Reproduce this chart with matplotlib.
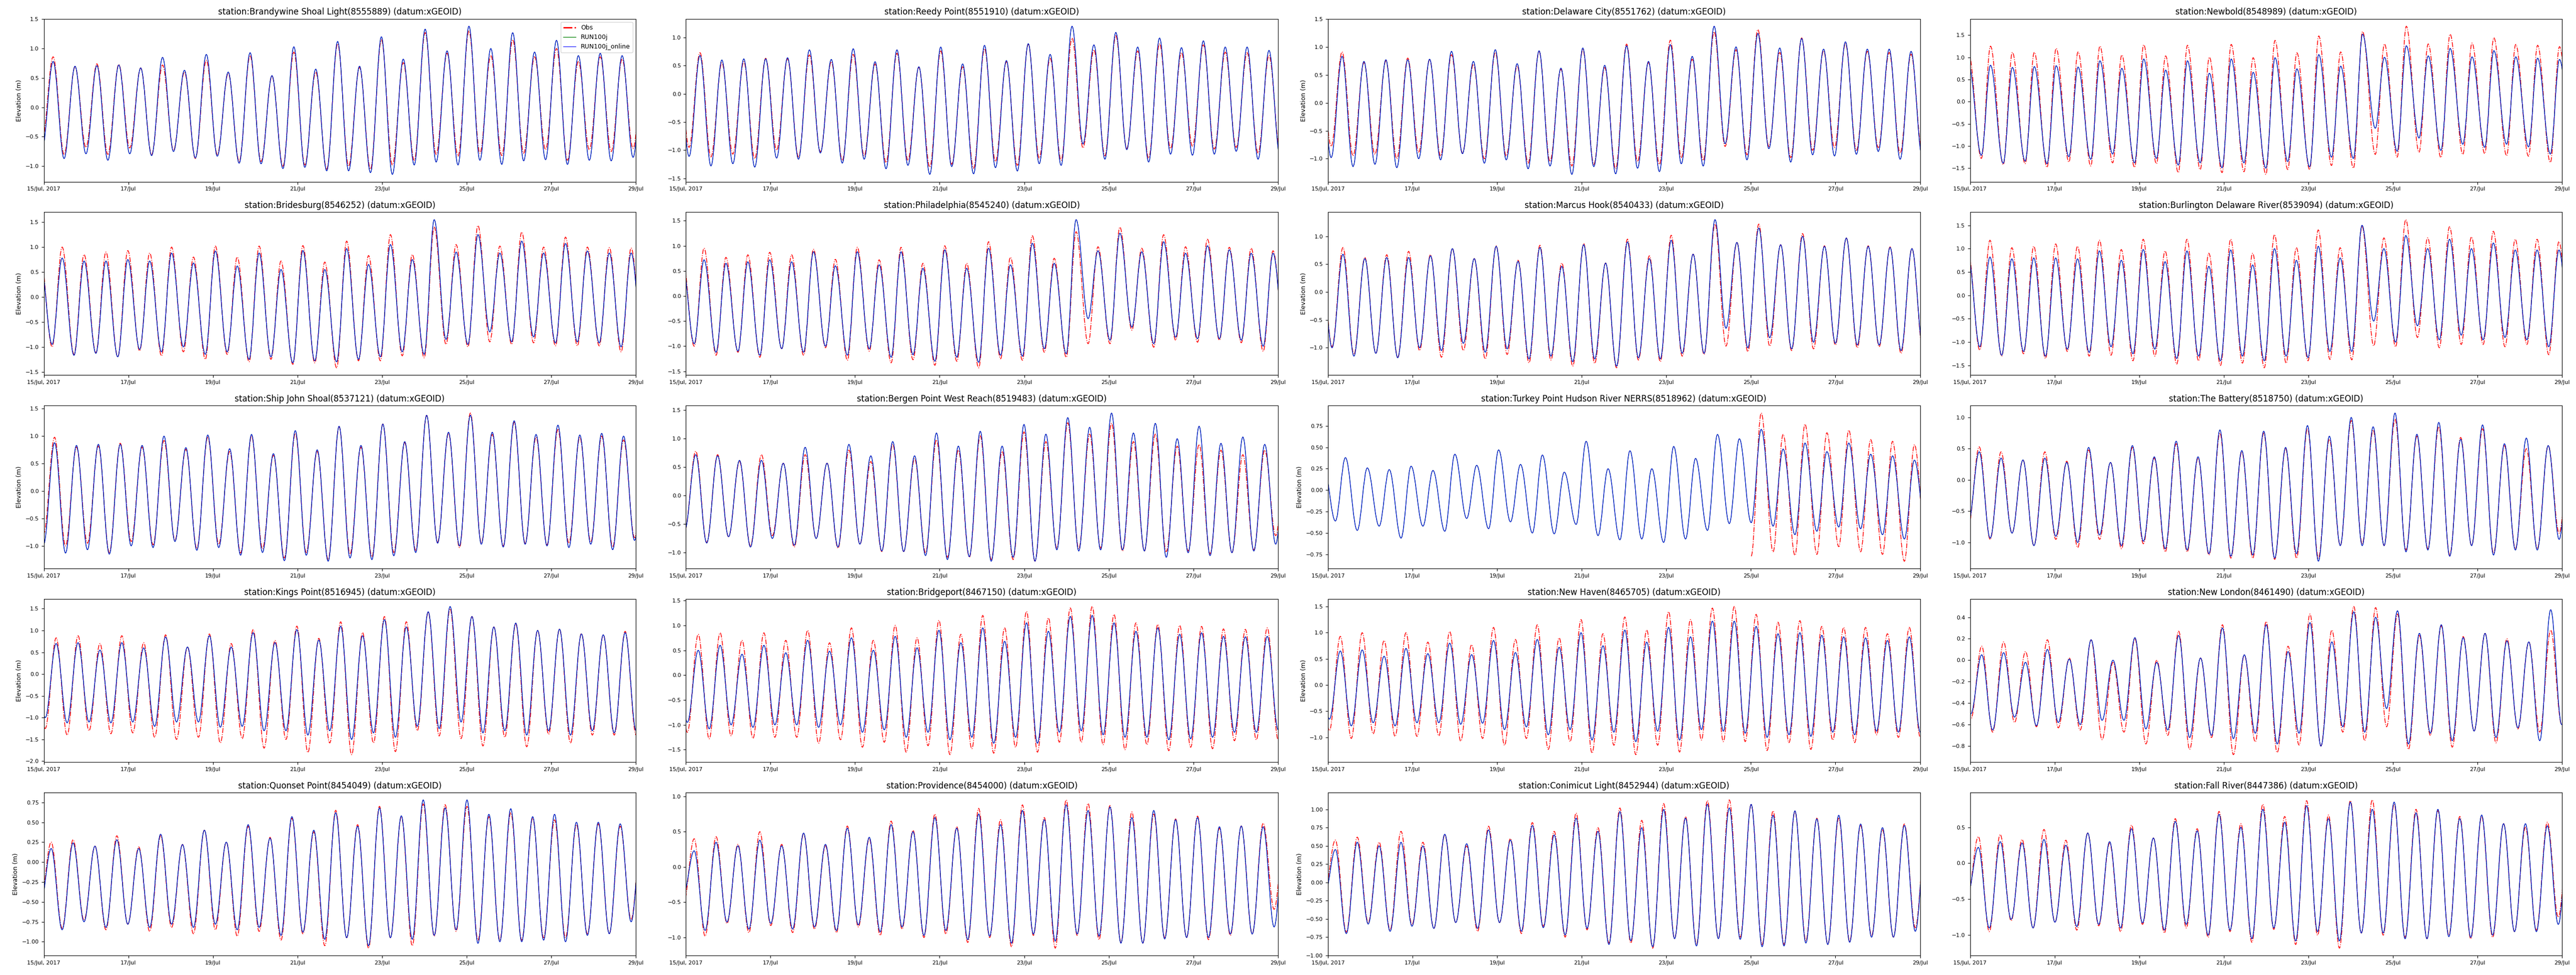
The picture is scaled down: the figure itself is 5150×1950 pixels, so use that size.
import numpy as np
import matplotlib
matplotlib.use("Agg")
import matplotlib.pyplot as plt
import matplotlib.dates as mdates
from matplotlib.path import Path
from matplotlib.patches import PathPatch
from matplotlib.lines import Line2D

nan = np.nan

# station titles
stations = [
    "Brandywine Shoal Light(8555889)", "Reedy Point(8551910)", "Delaware City(8551762)", "Newbold(8548989)",
    "Bridesburg(8546252)", "Philadelphia(8545240)", "Marcus Hook(8540433)", "Burlington Delaware River(8539094)",
    "Ship John Shoal(8537121)", "Bergen Point West Reach(8519483)", "Turkey Point Hudson River NERRS(8518962)", "The Battery(8518750)",
    "Kings Point(8516945)", "Bridgeport(8467150)", "New Haven(8465705)", "New London(8461490)",
    "Quonset Point(8454049)", "Providence(8454000)", "Conimicut Light(8452944)", "Fall River(8447386)",
]

# hour of first high water after 15 Jul 00:00 (can be before the window), and hours from low to high
first_high = [5.3, -4.4, -4.4, -0.8, -2.0, -2.1, -3.9, -1.1, -6.3, 5.6,
              -2.5, 5.2, -5.4, -5.4, -5.4, -5.8, 4.2, 4.7, 4.2, 4.7]
rise_hours = [6.2, 6.2, 6.2, 5.2, 5.7, 5.6, 6.2, 5.8, 6.2, 6.2,
              5.7, 6.2, 6.2, 6.2, 6.2, 6.2, 6.2, 6.2, 6.2, 6.2]
tide_period = 12.42

# successive high / low waters (m), one row per station
model_hi = [
    [0.78,0.70,0.71,0.72,0.67,0.85,0.63,0.90,0.60,0.93,0.54,1.03,0.65,1.12,0.70,1.20,0.82,1.33,0.96,1.38,1.00,1.27,0.94,1.14,0.88,0.92,0.88,0.95,0.90],
    [0.66,0.68,0.60,0.62,0.62,0.64,0.78,0.61,0.80,0.57,0.78,0.48,0.83,0.53,0.86,0.59,0.89,0.70,1.20,0.87,1.09,0.83,0.99,0.82,0.94,0.83,0.83,0.77,0.85],
    [0.80,0.83,0.74,0.77,0.77,0.78,0.92,0.74,0.95,0.70,0.93,0.62,0.98,0.67,1.02,0.74,1.04,0.83,1.37,1.00,1.24,0.98,1.15,0.96,1.09,0.96,0.96,0.92,0.90],
    [0.85,0.82,0.77,0.79,0.81,0.78,0.92,0.75,0.96,0.71,0.92,0.64,0.96,0.66,0.99,0.74,1.06,0.80,1.52,1.00,1.26,1.03,1.20,1.01,1.15,1.01,0.98,0.95,1.00],
    [0.75,0.78,0.72,0.72,0.75,0.72,0.88,0.68,0.92,0.62,0.88,0.55,0.93,0.55,0.97,0.65,1.05,0.75,1.55,0.90,1.25,0.88,1.12,0.88,1.07,0.92,0.88,0.88,0.90],
    [0.70,0.72,0.65,0.68,0.72,0.68,0.88,0.60,0.88,0.62,0.88,0.55,0.92,0.55,0.95,0.62,1.05,0.65,1.52,0.90,1.25,0.88,1.08,0.85,1.00,0.92,0.85,0.85,0.88],
    [0.65,0.68,0.60,0.62,0.62,0.65,0.78,0.60,0.82,0.55,0.80,0.46,0.85,0.52,0.90,0.60,0.93,0.68,1.30,0.89,1.15,0.85,1.00,0.82,0.97,0.82,0.80,0.78,0.80],
    [0.85,0.82,0.78,0.80,0.80,0.78,0.95,0.75,0.98,0.72,0.95,0.62,0.97,0.65,1.00,0.75,1.05,0.80,1.50,1.00,1.28,1.00,1.20,1.00,1.12,0.97,0.97,0.97,1.00],
    [0.85,0.88,0.83,0.85,0.85,0.83,1.00,0.79,1.02,0.77,1.03,0.68,1.10,0.75,1.18,0.83,1.22,0.90,1.38,1.07,1.38,1.07,1.28,1.03,1.20,1.02,1.05,1.00,0.95],
    [0.72,0.70,0.62,0.62,0.57,0.85,0.57,0.90,0.70,0.95,0.70,1.10,0.87,1.13,0.87,1.25,1.08,1.37,1.20,1.45,1.10,1.27,1.00,1.22,0.92,1.03,0.90,0.95,0.90],
    [0.30,0.38,0.26,0.24,0.28,0.23,0.42,0.29,0.47,0.30,0.41,0.21,0.57,0.25,0.46,0.25,0.51,0.37,0.65,0.60,0.71,0.48,0.55,0.45,0.55,0.42,0.40,0.35,0.40],
    [0.45,0.35,0.32,0.35,0.28,0.52,0.28,0.55,0.37,0.62,0.37,0.80,0.47,0.78,0.52,0.87,0.70,1.00,0.85,1.07,0.73,0.92,0.65,0.88,0.58,0.67,0.55,0.60,0.55],
    [0.70,0.70,0.72,0.55,0.72,0.60,0.85,0.62,0.88,0.62,0.95,0.72,1.02,0.78,1.10,0.88,1.25,1.08,1.43,1.55,1.32,1.08,1.17,1.00,1.03,0.92,0.90,0.95,0.95],
    [0.55,0.50,0.60,0.42,0.60,0.45,0.70,0.48,0.75,0.50,0.78,0.55,0.90,0.65,0.95,0.68,1.05,0.88,1.18,1.20,1.05,0.88,0.95,0.82,0.85,0.78,0.77,0.78,0.80],
    [0.65,0.65,0.67,0.55,0.70,0.60,0.80,0.58,0.85,0.62,0.87,0.72,1.00,0.75,1.05,0.82,1.10,0.92,1.22,1.22,1.12,0.98,1.00,0.95,0.92,0.90,0.85,0.92,0.90],
    [0.05,0.05,0.07,-0.02,0.10,0.01,0.19,0.00,0.21,-0.02,0.23,0.02,0.30,0.05,0.33,0.08,0.35,0.17,0.45,0.40,0.46,0.25,0.33,0.21,0.25,0.18,0.17,0.47,0.25],
    [0.17,0.24,0.20,0.28,0.17,0.35,0.22,0.40,0.25,0.47,0.30,0.57,0.40,0.62,0.45,0.68,0.58,0.78,0.68,0.78,0.60,0.67,0.57,0.60,0.50,0.50,0.48,0.45,0.45],
    [0.23,0.35,0.30,0.38,0.30,0.48,0.32,0.55,0.42,0.60,0.50,0.70,0.55,0.75,0.60,0.80,0.67,0.88,0.80,0.85,0.70,0.80,0.67,0.70,0.57,0.58,0.57,0.55,0.55],
    [0.45,0.55,0.50,0.55,0.50,0.66,0.53,0.72,0.58,0.78,0.65,0.88,0.70,0.97,0.75,1.00,0.88,1.07,1.02,1.07,0.92,0.98,0.87,0.92,0.80,0.75,0.78,0.75,0.72],
    [0.22,0.30,0.28,0.33,0.25,0.42,0.30,0.48,0.35,0.58,0.45,0.68,0.50,0.75,0.57,0.80,0.62,0.85,0.75,0.85,0.70,0.75,0.62,0.67,0.55,0.55,0.52,0.50,0.50],
]

model_lo = [
    [-0.70,-0.87,-0.79,-0.90,-0.79,-0.82,-0.75,-0.86,-0.83,-0.95,-0.96,-1.04,-1.02,-1.08,-1.08,-1.11,-1.14,-0.98,-0.93,-0.98,-0.90,-0.97,-0.91,-0.89,-0.97,-0.90,-0.91,-0.85,-0.88],
    [-1.10,-1.11,-1.28,-1.24,-1.30,-1.14,-1.16,-1.05,-1.23,-1.16,-1.33,-1.27,-1.43,-1.29,-1.42,-1.31,-1.37,-1.24,-1.27,-0.89,-1.16,-0.99,-1.21,-1.07,-1.09,-1.07,-1.02,-1.16,-1.10],
    [-1.00,-0.98,-1.14,-1.10,-1.16,-1.00,-1.02,-0.91,-1.08,-1.02,-1.18,-1.13,-1.28,-1.14,-1.27,-1.17,-1.23,-1.09,-1.13,-0.73,-1.02,-0.82,-1.06,-0.93,-0.95,-0.92,-0.87,-1.01,-0.95],
    [-1.15,-1.21,-1.39,-1.34,-1.40,-1.24,-1.30,-1.18,-1.38,-1.28,-1.43,-1.38,-1.49,-1.38,-1.50,-1.35,-1.47,-1.25,-1.28,-0.60,-1.12,-0.82,-1.10,-0.96,-1.03,-0.96,-1.02,-1.18,-1.10],
    [-1.05,-0.95,-1.17,-1.13,-1.20,-1.05,-1.10,-1.00,-1.15,-1.10,-1.25,-1.20,-1.32,-1.28,-1.30,-1.25,-1.20,-1.10,-1.15,-0.85,-0.95,-0.70,-0.90,-0.80,-0.92,-0.90,-0.92,-1.00,-1.00],
    [-1.00,-0.95,-1.12,-1.10,-1.18,-1.05,-1.12,-1.00,-1.18,-1.05,-1.22,-1.17,-1.30,-1.22,-1.32,-1.18,-1.20,-1.05,-1.15,-0.45,-0.88,-0.62,-0.95,-0.82,-0.85,-0.85,-0.88,-1.00,-1.00],
    [-1.00,-1.00,-1.15,-1.10,-1.18,-1.00,-1.05,-0.92,-1.08,-1.02,-1.20,-1.15,-1.25,-1.20,-1.33,-1.18,-1.20,-1.10,-1.10,-0.65,-1.00,-0.82,-1.02,-0.90,-0.92,-0.95,-0.95,-1.05,-1.00],
    [-1.05,-1.10,-1.28,-1.20,-1.30,-1.15,-1.22,-1.10,-1.25,-1.15,-1.35,-1.30,-1.40,-1.30,-1.40,-1.30,-1.33,-1.20,-1.20,-0.55,-1.00,-0.65,-0.95,-0.85,-0.95,-0.90,-0.95,-1.10,-1.05],
    [-1.00,-0.97,-1.13,-1.07,-1.15,-1.00,-1.03,-0.92,-1.08,-1.03,-1.17,-1.12,-1.27,-1.17,-1.28,-1.22,-1.25,-1.18,-1.12,-0.95,-1.00,-0.97,-1.02,-0.97,-1.00,-1.03,-0.97,-1.07,-0.90],
    [-0.60,-0.83,-0.72,-0.90,-0.75,-0.87,-0.75,-0.90,-0.85,-0.97,-0.98,-1.05,-1.12,-1.07,-1.15,-1.08,-1.15,-0.95,-0.97,-0.95,-0.95,-0.97,-1.08,-1.00,-1.05,-1.00,-0.97,-0.85,-0.90],
    [-0.40,-0.36,-0.47,-0.42,-0.56,-0.42,-0.48,-0.33,-0.45,-0.37,-0.50,-0.51,-0.40,-0.53,-0.58,-0.57,-0.61,-0.57,-0.47,-0.39,-0.38,-0.42,-0.52,-0.48,-0.43,-0.45,-0.52,-0.57,-0.50],
    [-0.70,-0.93,-0.85,-1.05,-0.90,-1.00,-0.88,-1.05,-0.98,-1.10,-1.12,-1.18,-1.22,-1.20,-1.25,-1.18,-1.30,-1.05,-1.05,-1.05,-1.15,-1.12,-1.22,-1.05,-1.20,-1.12,-1.12,-0.95,-1.00],
    [-1.10,-1.00,-1.12,-1.10,-1.12,-1.10,-1.20,-1.10,-1.10,-1.22,-1.20,-1.30,-1.30,-1.40,-1.30,-1.50,-1.35,-1.45,-1.20,-1.25,-1.10,-1.35,-1.30,-1.40,-1.30,-1.40,-1.30,-1.35,-1.30],
    [-1.00,-0.95,-1.08,-1.00,-1.05,-1.00,-1.00,-1.05,-1.00,-1.15,-1.10,-1.25,-1.15,-1.30,-1.25,-1.37,-1.25,-1.37,-1.15,-1.12,-1.20,-1.25,-1.25,-1.30,-1.28,-1.25,-1.15,-1.15,-1.10],
    [-0.75,-0.65,-0.78,-0.72,-0.78,-0.72,-0.72,-0.75,-0.73,-0.85,-0.80,-0.95,-0.85,-1.05,-0.90,-1.08,-0.88,-1.05,-0.85,-0.88,-0.92,-1.00,-0.95,-0.98,-0.90,-0.95,-0.88,-0.90,-0.90],
    [-0.50,-0.50,-0.65,-0.53,-0.61,-0.58,-0.60,-0.56,-0.56,-0.64,-0.65,-0.72,-0.70,-0.73,-0.68,-0.78,-0.68,-0.80,-0.62,-0.67,-0.45,-0.78,-0.68,-0.75,-0.66,-0.72,-0.63,-0.75,-0.60],
    [-0.55,-0.85,-0.75,-0.82,-0.78,-0.82,-0.78,-0.82,-0.78,-0.85,-0.82,-0.92,-0.88,-0.97,-0.95,-1.05,-0.95,-0.97,-0.92,-0.85,-1.02,-1.00,-1.00,-0.98,-1.00,-0.92,-0.90,-0.75,-0.85],
    [-0.40,-0.90,-0.78,-0.88,-0.80,-0.88,-0.85,-0.90,-0.82,-0.92,-0.85,-0.97,-0.90,-1.03,-0.98,-1.08,-0.95,-1.05,-0.95,-0.98,-1.08,-1.08,-1.02,-1.00,-1.00,-0.95,-0.95,-0.85,-0.90],
    [-0.20,-0.70,-0.57,-0.67,-0.60,-0.63,-0.55,-0.63,-0.55,-0.67,-0.62,-0.72,-0.63,-0.85,-0.80,-0.88,-0.77,-0.87,-0.77,-0.78,-0.88,-0.87,-0.83,-0.85,-0.82,-0.75,-0.75,-0.67,-0.70],
    [-0.45,-0.90,-0.78,-0.90,-0.82,-0.88,-0.85,-0.90,-0.83,-0.93,-0.85,-1.00,-0.93,-1.05,-0.90,-1.08,-0.95,-1.08,-0.97,-0.97,-1.05,-1.05,-1.02,-1.03,-1.00,-0.95,-0.95,-0.85,-0.90],
]

obs_hi = [
    [0.86,0.69,0.74,0.73,0.67,0.72,0.60,0.80,0.58,0.88,0.53,0.94,0.60,1.08,0.68,1.15,0.76,1.27,0.92,1.30,0.88,1.15,0.86,1.00,0.78,0.86,0.82,0.88,0.85],
    [0.70,0.73,0.55,0.57,0.63,0.62,0.69,0.57,0.70,0.53,0.72,0.47,0.76,0.48,0.80,0.57,0.88,0.63,0.99,0.78,1.03,0.76,0.89,0.73,0.87,0.74,0.73,0.68,0.78],
    [0.85,0.91,0.72,0.75,0.80,0.77,0.86,0.69,0.90,0.66,0.92,0.60,0.95,0.63,1.05,0.72,1.12,0.78,1.27,0.95,1.31,0.90,1.16,0.93,1.06,0.92,0.90,0.87,0.88],
    [1.10,1.25,1.11,1.11,1.20,1.12,1.25,1.05,1.28,1.03,1.27,1.00,1.29,0.99,1.38,1.10,1.48,1.12,1.58,1.30,1.70,1.30,1.52,1.32,1.44,1.29,1.27,1.24,1.30],
    [0.85,1.00,0.85,0.90,0.93,0.88,1.00,0.80,1.02,0.80,1.02,0.72,1.03,0.70,1.12,0.83,1.25,0.85,1.40,1.05,1.43,1.02,1.30,1.00,1.20,1.00,0.99,0.98,1.00],
    [0.85,0.95,0.77,0.82,0.87,0.82,0.93,0.73,0.97,0.72,0.97,0.65,1.00,0.65,1.08,0.77,1.20,0.75,1.28,0.98,1.37,0.95,1.22,0.98,1.13,0.97,0.95,0.90,0.92],
    [0.70,0.80,0.62,0.67,0.73,0.67,0.78,0.60,0.83,0.57,0.84,0.52,0.87,0.52,0.95,0.65,1.02,0.68,1.22,0.89,1.22,0.85,1.05,0.83,0.97,0.83,0.81,0.78,0.80],
    [0.95,1.18,1.02,1.05,1.10,1.05,1.18,0.98,1.20,0.95,1.20,0.90,1.20,0.90,1.30,1.02,1.40,1.02,1.48,1.23,1.62,1.23,1.47,1.25,1.37,1.20,1.20,1.15,1.20],
    [0.85,0.98,0.80,0.82,0.87,0.80,0.92,0.76,0.98,0.72,1.00,0.65,1.05,0.72,1.17,0.80,1.22,0.88,1.38,1.05,1.42,1.03,1.25,0.98,1.12,0.98,1.00,0.93,0.90],
    [0.78,0.72,0.60,0.72,0.57,0.72,0.57,0.80,0.60,0.90,0.65,0.98,0.80,1.05,0.78,1.12,0.95,1.28,1.08,1.27,0.95,1.08,0.87,0.90,0.80,0.72,0.80,0.85,0.80],
    [nan]*20 + [0.90,0.65,0.77,0.67,0.70,0.59,0.57,0.53,0.50],
    [0.53,0.45,0.32,0.45,0.30,0.48,0.28,0.52,0.35,0.58,0.35,0.75,0.45,0.75,0.50,0.82,0.65,0.95,0.80,0.97,0.70,0.85,0.68,0.82,0.55,0.50,0.55,0.55,0.50],
    [0.85,0.83,0.88,0.70,0.88,0.72,0.90,0.62,0.92,0.70,1.02,0.77,1.10,0.82,1.20,0.95,1.32,1.20,1.42,1.50,1.32,1.08,1.15,1.00,1.03,0.93,0.90,0.98,0.95],
    [0.80,0.82,0.85,0.70,0.85,0.70,0.90,0.65,0.95,0.70,1.00,0.75,1.10,0.82,1.20,0.95,1.28,1.15,1.35,1.38,1.22,1.05,1.02,1.00,0.98,0.93,0.92,0.95,0.95],
    [0.90,0.93,1.00,0.85,1.00,0.82,1.02,0.77,1.10,0.87,1.15,0.90,1.25,0.98,1.30,1.05,1.40,1.25,1.47,1.50,1.35,1.20,1.23,1.12,1.10,1.10,0.98,1.10,1.05],
    [0.10,0.13,0.17,0.08,0.19,0.02,0.19,-0.02,0.20,0.00,0.27,0.02,0.33,0.05,0.36,0.13,0.43,0.28,0.50,0.49,0.43,0.23,0.32,0.22,0.25,0.20,0.17,0.28,0.25],
    [0.25,0.28,0.20,0.33,0.19,0.33,0.22,0.40,0.25,0.45,0.31,0.55,0.38,0.65,0.47,0.70,0.57,0.73,0.72,0.70,0.57,0.62,0.55,0.53,0.47,0.48,0.45,0.45,0.42],
    [0.40,0.43,0.32,0.50,0.32,0.47,0.30,0.58,0.40,0.65,0.52,0.75,0.57,0.83,0.67,0.88,0.70,0.95,0.90,0.87,0.78,0.75,0.68,0.72,0.55,0.58,0.62,0.55,0.55],
    [0.58,0.62,0.55,0.70,0.55,0.65,0.50,0.77,0.60,0.82,0.70,0.95,0.75,1.02,0.85,1.08,0.90,1.12,1.13,1.07,0.98,0.97,0.88,0.88,0.78,0.72,0.80,0.75,0.72],
    [0.37,0.40,0.33,0.47,0.32,0.42,0.28,0.53,0.35,0.62,0.48,0.72,0.55,0.82,0.65,0.87,0.67,0.87,0.88,0.82,0.75,0.73,0.65,0.65,0.55,0.50,0.57,0.50,0.50],
]

obs_lo = [
    [-0.55,-0.80,-0.68,-0.80,-0.69,-0.80,-0.73,-0.87,-0.80,-0.92,-0.92,-1.00,-0.98,-1.05,-1.00,-1.05,-0.98,-0.90,-0.80,-0.83,-0.78,-0.82,-0.78,-0.72,-0.90,-0.72,-0.75,-0.70,-0.72],
    [-0.95,-0.95,-1.12,-1.07,-1.15,-1.00,-1.12,-1.03,-1.18,-1.10,-1.22,-1.18,-1.30,-1.25,-1.32,-1.20,-1.27,-1.14,-1.18,-0.96,-1.10,-0.97,-1.14,-0.97,-0.93,-0.98,-0.95,-1.05,-1.00],
    [-0.80,-0.78,-0.95,-0.92,-1.00,-0.88,-0.95,-0.90,-1.00,-0.95,-1.08,-1.05,-1.13,-1.10,-1.18,-1.05,-1.10,-0.98,-1.03,-0.78,-0.93,-0.78,-0.98,-0.85,-0.80,-0.85,-0.80,-0.90,-0.85],
    [-1.25,-1.28,-1.42,-1.40,-1.48,-1.36,-1.45,-1.38,-1.48,-1.40,-1.60,-1.53,-1.60,-1.58,-1.64,-1.53,-1.53,-1.44,-1.50,-1.19,-1.25,-1.14,-1.26,-1.19,-1.17,-1.22,-1.23,-1.37,-1.30],
    [-1.10,-1.00,-1.15,-1.12,-1.20,-1.08,-1.18,-1.10,-1.25,-1.15,-1.30,-1.25,-1.35,-1.32,-1.42,-1.28,-1.28,-1.18,-1.22,-0.95,-1.00,-0.90,-0.95,-0.92,-0.98,-0.98,-0.98,-1.10,-1.05],
    [-1.05,-1.00,-1.18,-1.12,-1.22,-1.05,-1.18,-1.03,-1.28,-1.10,-1.33,-1.27,-1.38,-1.30,-1.43,-1.25,-1.28,-1.12,-1.22,-0.95,-0.95,-0.68,-1.02,-0.88,-0.92,-0.88,-0.93,-1.10,-1.05],
    [-0.95,-0.98,-1.12,-1.10,-1.17,-1.05,-1.17,-1.05,-1.20,-1.12,-1.27,-1.22,-1.33,-1.28,-1.36,-1.22,-1.25,-1.15,-1.12,-0.97,-1.07,-0.97,-1.05,-1.02,-0.95,-1.00,-0.98,-1.10,-1.05],
    [-1.15,-1.17,-1.30,-1.25,-1.35,-1.20,-1.30,-1.28,-1.40,-1.30,-1.47,-1.40,-1.50,-1.45,-1.55,-1.45,-1.40,-1.37,-1.38,-1.08,-1.10,-0.90,-1.12,-1.05,-1.05,-1.10,-1.05,-1.27,-1.20],
    [-0.90,-0.78,-1.00,-0.95,-1.12,-0.92,-0.98,-0.90,-1.05,-0.97,-1.13,-1.05,-1.22,-1.12,-1.25,-1.15,-1.20,-1.12,-1.08,-0.93,-1.03,-0.95,-1.00,-0.95,-0.98,-0.95,-0.93,-1.02,-0.85],
    [-0.60,-0.82,-0.72,-0.88,-0.70,-0.90,-0.75,-0.92,-0.85,-0.98,-0.98,-1.00,-1.08,-1.08,-1.12,-1.12,-1.15,-0.92,-0.93,-0.92,-0.97,-0.97,-0.98,-0.97,-1.02,-1.00,-0.95,-0.70,-0.85],
    [nan]*20 + [-0.77,-0.72,-0.76,-0.75,-0.66,-0.72,-0.75,-0.83,-0.70],
    [-0.75,-0.95,-0.85,-1.05,-0.95,-1.08,-0.95,-1.10,-1.02,-1.15,-1.15,-1.20,-1.25,-1.25,-1.27,-1.25,-1.25,-1.05,-1.02,-1.05,-1.12,-1.10,-1.20,-1.05,-1.17,-1.10,-1.10,-0.85,-1.00],
    [-1.30,-1.25,-1.40,-1.30,-1.37,-1.35,-1.45,-1.50,-1.45,-1.58,-1.48,-1.70,-1.50,-1.80,-1.58,-1.85,-1.58,-1.78,-1.30,-1.42,-1.48,-1.65,-1.45,-1.67,-1.38,-1.58,-1.40,-1.40,-1.40],
    [-1.20,-1.15,-1.28,-1.22,-1.27,-1.25,-1.25,-1.37,-1.30,-1.45,-1.35,-1.55,-1.42,-1.60,-1.48,-1.57,-1.45,-1.55,-1.35,-1.35,-1.40,-1.50,-1.40,-1.52,-1.45,-1.48,-1.32,-1.30,-1.30],
    [-0.95,-0.87,-1.02,-0.93,-0.98,-0.98,-0.97,-1.07,-1.02,-1.15,-1.02,-1.23,-1.08,-1.30,-1.15,-1.33,-1.15,-1.28,-1.05,-1.08,-1.08,-1.25,-1.10,-1.23,-1.05,-1.10,-0.95,-1.00,-1.00],
    [-0.55,-0.55,-0.67,-0.58,-0.62,-0.63,-0.65,-0.74,-0.67,-0.78,-0.70,-0.83,-0.72,-0.88,-0.76,-0.86,-0.79,-0.80,-0.67,-0.75,-0.62,-0.83,-0.70,-0.81,-0.66,-0.77,-0.64,-0.67,-0.60],
    [-0.52,-0.83,-0.73,-0.85,-0.78,-0.87,-0.82,-0.90,-0.85,-0.93,-0.87,-0.98,-0.90,-1.05,-0.95,-1.08,-0.95,-1.05,-0.93,-0.87,-0.98,-0.98,-0.98,-0.95,-0.95,-0.90,-0.90,-0.72,-0.85],
    [-0.55,-0.98,-0.80,-0.93,-0.83,-0.93,-0.88,-0.93,-0.85,-0.97,-0.88,-1.00,-0.95,-1.07,-1.00,-1.13,-0.97,-1.15,-0.97,-1.03,-1.07,-1.08,-1.00,-1.00,-1.03,-0.97,-0.95,-0.60,-0.90],
    [-0.15,-0.68,-0.55,-0.65,-0.58,-0.63,-0.55,-0.67,-0.55,-0.70,-0.60,-0.75,-0.65,-0.83,-0.83,-0.90,-0.77,-0.85,-0.77,-0.75,-0.85,-0.85,-0.80,-0.85,-0.80,-0.73,-0.75,-0.62,-0.70],
    [-0.50,-0.95,-0.80,-0.90,-0.82,-0.93,-0.87,-0.95,-0.85,-0.97,-0.90,-1.03,-0.95,-1.10,-0.92,-1.13,-1.00,-1.18,-0.97,-1.00,-1.03,-1.05,-1.00,-1.05,-1.03,-0.95,-0.93,-0.75,-0.90],
]

tick_days = ["2017-07-15", "2017-07-17", "2017-07-19", "2017-07-21",
             "2017-07-23", "2017-07-25", "2017-07-27", "2017-07-29"]
tick_labels = ["15/Jul, 2017", "17/Jul", "19/Jul", "21/Jul", "23/Jul", "25/Jul", "27/Jul", "29/Jul"]

t_start = np.datetime64("2017-07-15T00:00")
t_end = np.datetime64("2017-07-29T00:00")


def tide_series(h0, rise, lows, highs):
    # low, high, low, high ... as (date number, elevation)
    n = len(highs)
    hrs = np.empty(2 * n)
    vals = np.empty(2 * n)
    for k in range(n):
        hrs[2 * k] = h0 + k * tide_period - rise
        hrs[2 * k + 1] = h0 + k * tide_period
        vals[2 * k] = lows[k]
        vals[2 * k + 1] = highs[k]
    times = t_start + (hrs * 60).round().astype("timedelta64[m]")
    return mdates.date2num(times), vals


def tide_path(x, y):
    # smooth curve between successive turning points (flat at each high/low)
    verts, codes = [], []
    prev = None
    for k in range(len(x)):
        if np.isnan(y[k]):
            continue
        if prev is None:
            verts.append((x[k], y[k]))
            codes.append(Path.MOVETO)
        else:
            dx = x[k] - x[prev]
            verts += [(x[prev] + 0.36 * dx, y[prev]), (x[k] - 0.36 * dx, y[k]), (x[k], y[k])]
            codes += [Path.CURVE4] * 3
        prev = k
    return Path(verts, codes)


fig, axes = plt.subplots(5, 4, figsize=(51.5, 19.5), dpi=100)
plt.subplots_adjust(left=0.017, right=0.9946, top=0.9807, bottom=0.020, wspace=0.0845, hspace=0.187)

styles = [
    dict(color='red', linestyle='-.', linewidth=1.1, label='Obs'),
    dict(color='green', linestyle='-', linewidth=0.9, label='RUN100j'),
    dict(color='blue', linestyle='-', linewidth=0.8, label='RUN100j_online'),
]

for i, ax in enumerate(axes.flat):
    ax.xaxis_date()
    x_o, y_o = tide_series(first_high[i], rise_hours[i], obs_lo[i], obs_hi[i])
    x_m, y_m = tide_series(first_high[i], rise_hours[i], model_lo[i], model_hi[i])

    for (xx, yy), st in zip([(x_o, y_o), (x_m, y_m), (x_m, y_m)], styles):
        ax.add_patch(PathPatch(tide_path(xx, yy), fill=False, edgecolor=st['color'],
                               linestyle=st['linestyle'], linewidth=st['linewidth']))
    ax.autoscale_view()

    ax.set_xlim(t_start, t_end)
    ax.set_xticks(np.array(tick_days, dtype="datetime64[m]"))
    ax.set_xticklabels(tick_labels)
    ax.tick_params(labelsize=8)
    ax.set_title('station:' + stations[i] + ' (datum:xGEOID)', fontsize=12)
    if i % 4 in (0, 2):
        ax.set_ylabel('Elevation (m)', fontsize=9)
    if i == 0:
        handles = [Line2D([], [], color=st['color'], linestyle=st['linestyle'],
                          linewidth=st['linewidth'] + (0.9 if st['label'] == 'Obs' else 0)) for st in styles]
        ax.legend(handles, [st['label'] for st in styles], loc='upper right', fontsize=9)

fig.savefig('out.png', dpi=100)
